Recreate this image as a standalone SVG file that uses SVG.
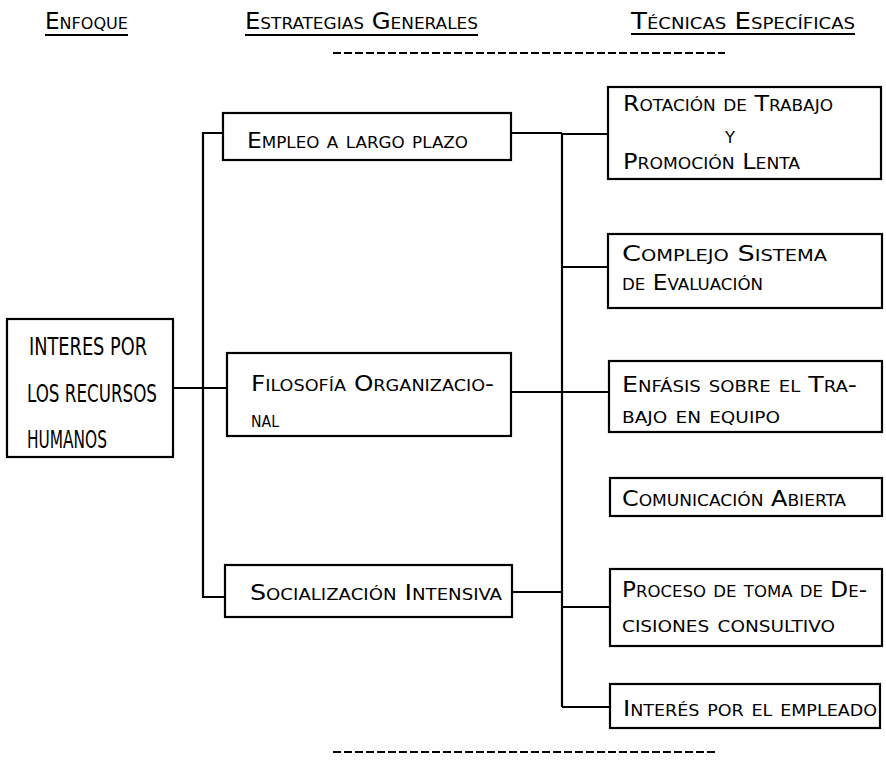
<svg xmlns="http://www.w3.org/2000/svg" width="886" height="778" viewBox="0 0 886 778">
<style>
text{font-family:"DejaVu Sans Condensed","DejaVu Sans","Liberation Sans",sans-serif;fill:#000;}
.sc{font-variant:small-caps;font-size:21px;}
.hd{font-variant:small-caps;font-size:23px;}
.lg{font-size:24px;}
.box{fill:#fff;stroke:#000;stroke-width:2.2;}
.ln{fill:none;stroke:#000;stroke-width:2.2;}
.dash{fill:none;stroke:#000;stroke-width:2;stroke-dasharray:8 3;}
</style>
<rect width="886" height="778" fill="#fff"/>
<g id="headers">
<text class="hd" x="45" y="29" textLength="83" lengthAdjust="spacingAndGlyphs">Enfoque</text>
<line class="ln" x1="45" y1="35" x2="128" y2="35"/>
<text class="hd" x="245" y="29" textLength="233" lengthAdjust="spacingAndGlyphs">Estrategias Generales</text>
<line class="ln" x1="245" y1="35" x2="478" y2="35"/>
<text class="hd" x="631" y="29" textLength="224" lengthAdjust="spacingAndGlyphs">Técnicas Específicas</text>
<line class="ln" x1="631" y1="34" x2="855" y2="34"/>
<line class="dash" x1="333" y1="53" x2="725" y2="53"/>
<line class="dash" x1="333" y1="752" x2="715" y2="752"/>
</g>
<g id="connectors">
<polyline class="ln" points="223,133 203,133 203,597 225,597"/>
<line class="ln" x1="173" y1="388" x2="227" y2="388"/>
<line class="ln" x1="511" y1="133" x2="562" y2="133"/>
<line class="ln" x1="562" y1="133" x2="562" y2="707"/>
<line class="ln" x1="562" y1="134" x2="608" y2="134"/>
<line class="ln" x1="562" y1="267" x2="608" y2="267"/>
<line class="ln" x1="511" y1="392" x2="609" y2="392"/>
<line class="ln" x1="512" y1="592" x2="562" y2="592"/>
<line class="ln" x1="562" y1="607" x2="610" y2="607"/>
<line class="ln" x1="562" y1="707" x2="610" y2="707"/>
</g>
<g id="n-enfoque">
<rect class="box" x="7" y="319" width="166" height="138"/>
<text class="lg" x="29" y="355" textLength="118" lengthAdjust="spacingAndGlyphs">INTERES POR</text>
<text class="lg" x="27" y="402" textLength="130" lengthAdjust="spacingAndGlyphs">LOS RECURSOS</text>
<text class="lg" x="27" y="448" textLength="80" lengthAdjust="spacingAndGlyphs">HUMANOS</text>
</g>
<g id="n-empleo">
<rect class="box" x="223" y="113" width="288" height="47"/>
<text class="sc" x="247" y="148" textLength="221" lengthAdjust="spacingAndGlyphs">Empleo a largo plazo</text>
</g>
<g id="n-filosofia">
<rect class="box" x="227" y="353" width="284" height="83"/>
<text class="sc" x="251" y="391" textLength="243" lengthAdjust="spacingAndGlyphs">Filosofía Organizacio-</text>
<text class="sc" x="251" y="427" textLength="28" lengthAdjust="spacingAndGlyphs">nal</text>
</g>
<g id="n-socializacion">
<rect class="box" x="225" y="565" width="287" height="52"/>
<text class="sc" x="250" y="600" textLength="252" lengthAdjust="spacingAndGlyphs">Socialización Intensiva</text>
</g>
<g id="n-rotacion">
<rect class="box" x="608" y="87" width="273" height="92"/>
<text class="sc" x="623" y="111" textLength="210" lengthAdjust="spacingAndGlyphs">Rotación de Trabajo</text>
<text class="sc" x="725" y="143" textLength="10" lengthAdjust="spacingAndGlyphs">y</text>
<text class="sc" x="623" y="169" textLength="177" lengthAdjust="spacingAndGlyphs">Promoción Lenta</text>
</g>
<g id="n-complejo">
<rect class="box" x="608" y="234" width="274" height="74"/>
<text class="sc" x="622" y="261" textLength="205" lengthAdjust="spacingAndGlyphs">Complejo Sistema</text>
<text class="sc" x="622" y="290" textLength="141" lengthAdjust="spacingAndGlyphs">de Evaluación</text>
</g>
<g id="n-enfasis">
<rect class="box" x="609" y="361" width="273" height="71"/>
<text class="sc" x="622" y="392" textLength="235" lengthAdjust="spacingAndGlyphs">Enfásis sobre el Tra-</text>
<text class="sc" x="622" y="423" textLength="158" lengthAdjust="spacingAndGlyphs">bajo en equipo</text>
</g>
<g id="n-comunicacion">
<rect class="box" x="610" y="478" width="272" height="38"/>
<text class="sc" x="622" y="506" textLength="224" lengthAdjust="spacingAndGlyphs">Comunicación Abierta</text>
</g>
<g id="n-proceso">
<rect class="box" x="610" y="569" width="272" height="77"/>
<text class="sc" x="622" y="597" textLength="245" lengthAdjust="spacingAndGlyphs">Proceso de toma de De-</text>
<text class="sc" x="622" y="632" textLength="213" lengthAdjust="spacingAndGlyphs">cisiones consultivo</text>
</g>
<g id="n-interes">
<rect class="box" x="610" y="684" width="270" height="44"/>
<text class="sc" x="623" y="716" textLength="254" lengthAdjust="spacingAndGlyphs">Interés por el empleado</text>
</g>
</svg>
